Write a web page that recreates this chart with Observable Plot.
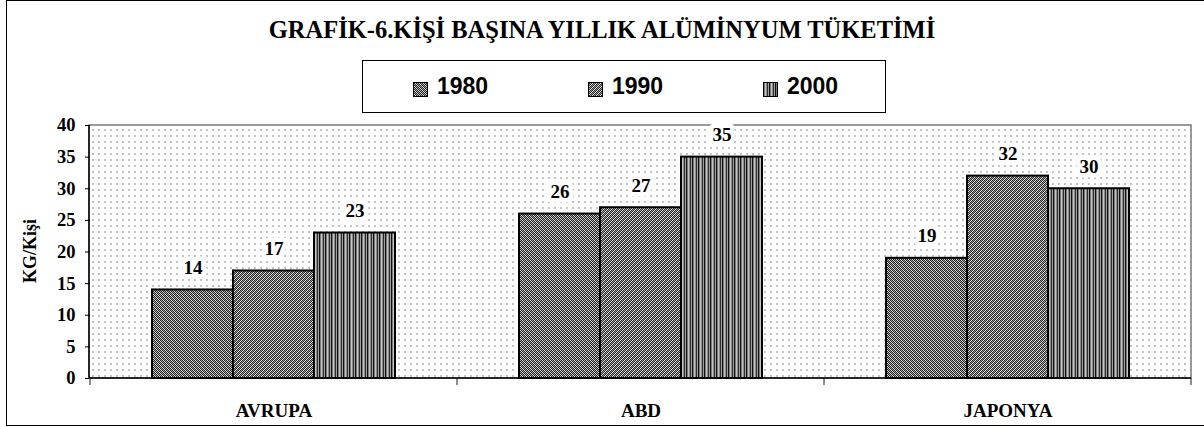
<!DOCTYPE html>
<html><head><meta charset="utf-8">
<script src="https://cdn.jsdelivr.net/npm/d3@7"></script>
<script src="https://cdn.jsdelivr.net/npm/@observablehq/plot@0.6"></script>
<style>
html,body{margin:0;padding:0;overflow:hidden;background:#fff;}
#wrap{position:relative;width:1204px;height:427px;overflow:hidden;}
#frame{position:absolute;left:6px;top:0;width:1220px;height:426px;border:1.5px solid #000;box-sizing:border-box;pointer-events:none;}
#head{position:relative;height:115px;}
#title{position:absolute;left:0;width:1204px;top:17px;text-align:center;font:bold 24.5px "Liberation Serif";line-height:26px;color:#000;}
#legend{position:absolute;left:362px;top:60px;width:524px;height:53px;border:1.5px solid #000;box-sizing:border-box;}
.item{position:absolute;top:0;height:100%;display:flex;align-items:center;font:bold 23px "Liberation Sans";color:#000;}
.item svg{margin-right:9px;position:relative;top:3px;}
#ylab{position:absolute;left:30px;top:251px;transform:translate(-50%,-50%) rotate(-90deg);font:bold 18px "Liberation Serif";white-space:nowrap;color:#000;}
#defs{position:absolute;width:0;height:0;}
</style>
</head><body>
<div id="wrap">
  <svg id="defs" width="0" height="0"></svg>
  <div id="head"><div id="title"></div><div id="legend"></div></div>
  <div id="chart"></div>
  <div id="ylab"></div>
  <div id="frame"></div>
</div>
<script>
const regions = ["AVRUPA", "ABD", "JAPONYA"];
const years = ["1980", "1990", "2000"];
const v1980 = [14, 26, 19];
const v1990 = [17, 27, 32];
const v2000 = [23, 35, 30];
const yTicks = [0, 5, 10, 15, 20, 25, 30, 35, 40];
const titleText = "GRAFİK-6.KİŞİ BAŞINA YILLIK ALÜMİNYUM TÜKETİMİ";
const yLabelText = "KG/Kişi";

const series = [v1980, v1990, v2000];
const data = [];
regions.forEach((r, i) => years.forEach((y, j) => data.push({region: r, year: y, value: series[j][i]})));

// fill patterns
const defs = d3.select("#defs").append("defs");
function pixelPattern(id, w, h, colorAt) {
  const p = defs.append("pattern").attr("id", id).attr("patternUnits", "userSpaceOnUse")
    .attr("width", w).attr("height", h);
  for (let y = 0; y < h; y++) for (let x = 0; x < w; x++) {
    p.append("rect").attr("x", x).attr("y", y).attr("width", 1).attr("height", 1)
      .attr("fill", colorAt(x, y)).attr("shape-rendering", "crispEdges");
  }
}
const mod = (a, n) => ((a % n) + n) % n;
// 1980: fine dark checker
pixelPattern("pat1980", 4, 4, (x, y) => {
  if (mod(x + y, 2) === 0) return "#1e1e1e";
  return mod(x - y, 4) === 1 ? "#e2e2e2" : "#a8a8a8";
});
// 1990: fine checker, other diagonal
pixelPattern("pat1990", 4, 4, (x, y) => {
  if (mod(x + y, 2) === 0) return "#262626";
  return mod(x + y, 4) === 1 ? "#ececec" : "#9c9c9c";
});
// 2000: vertical stripes
const c2000 = ["#111111", "#7a7a7a", "#c4c4c4", "#8c8c8c", "#2e2e2e", "#a0a0a0"];
pixelPattern("pat2000", 6, 1, (x, y) => c2000[x]);
pixelPattern("dots", 6, 6, (x, y) => (x >= 2 && x < 4 && y >= 2 && y < 4) ? "#c4c4c4" : "#ffffff");

const patternOf = y => `url(#pat${y})`;

document.getElementById("title").textContent = titleText;
document.getElementById("ylab").textContent = yLabelText;

const legend = d3.select("#legend");
years.forEach((y, i) => {
  const it = legend.append("div").attr("class", "item").style("left", (50 + i * 175) + "px");
  const s = it.append("svg").attr("width", 15).attr("height", 15);
  s.append("rect").attr("x", 0.5).attr("y", 0.5).attr("width", 14).attr("height", 14)
    .attr("fill", patternOf(y)).attr("stroke", "#000").attr("stroke-width", 1);
  it.append("span").text(y);
});

const plot = Plot.plot({
  width: 1204, height: 312,
  marginTop: 10, marginBottom: 49, marginLeft: 89, marginRight: 13,
  style: {fontFamily: "Liberation Serif", fontWeight: "bold", color: "#000", background: "transparent", overflow: "visible"},
  fx: {domain: regions, paddingInner: 0, paddingOuter: 0, label: null, axis: null},
  x: {domain: years, paddingInner: 0, paddingOuter: 0.74, axis: null},
  y: {domain: [0, 40], axis: null},
  color: {type: "identity"},
  marks: [
    Plot.axisY({ticks: yTicks, tickSize: 5, tickPadding: 10, fontSize: 18.5, fontWeight: "bold", label: null, tickFormat: d => String(d)}),
    Plot.axisFx({anchor: "bottom", tickSize: 0, tickPadding: 25, fontSize: 19, fontWeight: "bold", label: null}),
    Plot.barY(data, {fx: "region", x: "year", y: "value", fill: d => patternOf(d.year), stroke: "#000", strokeWidth: 2}),
    Plot.text(data, {fx: "region", x: "year", y: "value", text: d => String(d.value), dy: -22,
      fontSize: 19, fontWeight: "bold", fill: "#000", stroke: "white", strokeWidth: 9})
  ]
});
document.getElementById("chart").appendChild(plot);

// plot-area background, frame and axis lines from the plot's own scales
const svg = d3.select(plot);
const fxs = plot.scale("fx"), ys = plot.scale("y");
const [xa, xb] = fxs.range;
const yb = ys.apply(0), yt = ys.apply(40);
svg.insert("rect", ":first-child")
  .attr("x", xa).attr("y", yt).attr("width", xb - xa).attr("height", yb - yt)
  .attr("fill", "url(#dots)").attr("stroke", "#7a7a7a").attr("stroke-width", 1.5);
const g = svg.append("g");
regions.concat([null]).forEach(r => {
  const xx = r === null ? xb : fxs.apply(r);
  g.append("line").attr("x1", xx).attr("x2", xx).attr("y1", yb).attr("y2", yb + 7)
    .attr("stroke", "#666").attr("stroke-width", 1.5);
});
g.append("line").attr("x1", xa).attr("x2", xa).attr("y1", yt).attr("y2", yb).attr("stroke", "#000").attr("stroke-width", 1.5);
g.append("line").attr("x1", xa).attr("x2", xb).attr("y1", yb).attr("y2", yb).attr("stroke", "#000").attr("stroke-width", 1.5);
</script>
</body></html>
